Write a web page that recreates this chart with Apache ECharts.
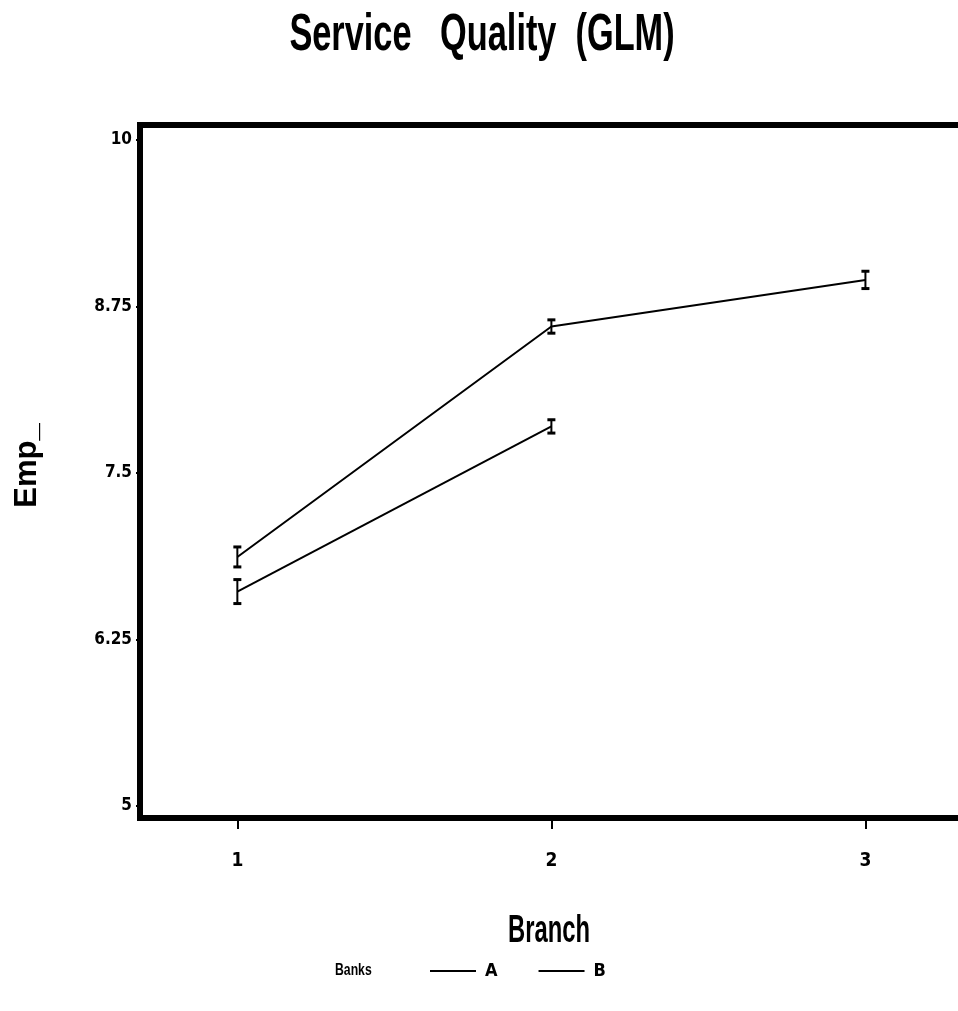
<!DOCTYPE html>
<html>
<head>
<meta charset="utf-8">
<script src="https://cdn.jsdelivr.net/npm/echarts@6/dist/echarts.min.js"></script>
<style>
html,body{margin:0;padding:0;background:#fff;}
#c{width:958px;height:1011px;}
</style>
</head>
<body>
<div id="c"></div>
<script>
const branches = [1, 2, 3];
const yTicks = [5, 6.25, 7.5, 8.75, 10];
const meanA = [6.87, 8.60, 8.95];
const errA = [0.075, 0.05, 0.065];
const meanB = [6.61, 7.85];
const errB = [0.09, 0.05];

const COND = '"DejaVu Sans Condensed", "Liberation Sans Narrow", "Liberation Sans", Arial, sans-serif';
const SANS = '"Liberation Sans", Arial, sans-serif';

function pts(means) { return means.map((v, i) => [branches[i], v]); }
function bars(means, errs) { return means.map((v, i) => [branches[i], v - errs[i], v + errs[i]]); }

function errRender(params, api) {
  const x = api.value(0);
  const lo = api.coord([x, api.value(1)]);
  const hi = api.coord([x, api.value(2)]);
  const w = 4;
  return {
    type: 'group',
    children: [
      { type: 'line', shape: { x1: lo[0], y1: lo[1], x2: hi[0], y2: hi[1] }, style: { stroke: '#000', lineWidth: 2 } },
      { type: 'line', shape: { x1: lo[0] - w, y1: lo[1], x2: lo[0] + w, y2: lo[1] }, style: { stroke: '#000', lineWidth: 3 } },
      { type: 'line', shape: { x1: hi[0] - w, y1: hi[1], x2: hi[0] + w, y2: hi[1] }, style: { stroke: '#000', lineWidth: 3 } }
    ]
  };
}

const chart = echarts.init(document.getElementById('c'), null, { renderer: 'canvas' });
chart.setOption({
  animation: false,
  backgroundColor: '#fff',
  grid: {
    left: 140, top: 125, width: 830, height: 693,
    show: true, borderColor: '#000', borderWidth: 6, backgroundColor: 'transparent',
    containLabel: false,
    outerBoundsMode: 'none'
  },
  xAxis: {
    type: 'value', min: 0.69, max: 3.333,
    axisLine: { show: false },
    splitLine: { show: false },
    axisTick: { show: true, customValues: branches, length: 11, lineStyle: { color: '#000', width: 2 } },
    axisLabel: { customValues: branches, margin: 34, fontFamily: COND, fontSize: 19, fontWeight: 'bold', color: '#000' }
  },
  yAxis: {
    type: 'value', min: 4.91, max: 10.113,
    name: 'Emp_', nameLocation: 'middle', nameGap: 97, nameRotate: 90,
    nameTextStyle: { fontFamily: SANS, fontSize: 31, fontWeight: 'bold', color: '#000', padding: [0, 0, 0, 12] },
    axisLine: { show: false },
    splitLine: { show: false },
    axisTick: { show: true, customValues: yTicks, length: 4, lineStyle: { color: '#000', width: 2 } },
    axisLabel: { customValues: yTicks, margin: 8, fontFamily: COND, fontSize: 17, fontWeight: 'bold', color: '#000' }
  },
  legend: {
    left: 425, top: 957,
    itemWidth: 46, itemHeight: 2, itemGap: 41,
    icon: 'rect',
    textStyle: { fontFamily: COND, fontSize: 18, fontWeight: 'bold', color: '#000', padding: [0, 0, 0, 4] },
    data: ['A', 'B']
  },
  graphic: [
    { type: 'text', x: 482, y: 36, scaleX: 0.66, style: { text: 'Service   Quality  (GLM)', x: 0, y: 0, align: 'center', verticalAlign: 'middle', fontFamily: SANS, fontSize: 52, fontWeight: 'bold', fill: '#000' } },
    { type: 'text', x: 549, y: 931, scaleX: 0.61, style: { text: 'Branch', x: 0, y: 0, align: 'center', verticalAlign: 'middle', fontFamily: SANS, fontSize: 39, fontWeight: 'bold', fill: '#000' } },
    { type: 'text', x: 335, y: 970, scaleX: 0.72, style: { text: 'Banks', x: 0, y: 0, align: 'left', verticalAlign: 'middle', fontFamily: SANS, fontSize: 17, fontWeight: 'bold', fill: '#000' } }
  ],
  series: [
    { name: 'A', type: 'line', data: pts(meanA), symbol: 'none', lineStyle: { color: '#000', width: 2 }, itemStyle: { color: '#000' } },
    { name: 'B', type: 'line', data: pts(meanB), symbol: 'none', lineStyle: { color: '#000', width: 2 }, itemStyle: { color: '#000' } },
    { name: 'errA', type: 'custom', renderItem: errRender, data: bars(meanA, errA), encode: { x: 0, y: [1, 2] }, z: 5 },
    { name: 'errB', type: 'custom', renderItem: errRender, data: bars(meanB, errB), encode: { x: 0, y: [1, 2] }, z: 5 }
  ]
});
</script>
</body>
</html>
